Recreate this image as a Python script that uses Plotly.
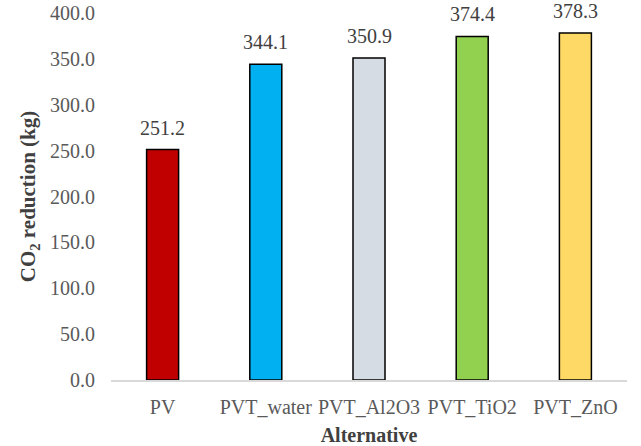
import plotly.graph_objects as go

categories = ["PV", "PVT_water", "PVT_Al2O3", "PVT_TiO2", "PVT_ZnO"]
values = [251.2, 344.1, 350.9, 374.4, 378.3]
colors = ["#C00000", "#00B0F0", "#D6DCE4", "#92D050", "#FFD966"]
y_ticks = [0, 50, 100, 150, 200, 250, 300, 350, 400]

font = "Liberation Serif"

fig = go.Figure()
fig.add_trace(go.Bar(
    x=categories, y=values,
    marker=dict(color=colors, line=dict(color="#000000", width=1.5)),
    width=0.31,
    cliponaxis=False,
))

for c, v in zip(categories, values):
    fig.add_annotation(x=c, y=v, text=f"{v:.1f}", showarrow=False,
                       yanchor="bottom", yshift=10, borderpad=0,
                       font=dict(family=font, size=20, color="#404040"))

fig.update_layout(
    width=641, height=446,
    margin=dict(l=111, r=14, t=13, b=66, autoexpand=False),
    paper_bgcolor="white", plot_bgcolor="white",
    showlegend=False,
    font=dict(family=font, size=20, color="#595959"),
    xaxis=dict(
        automargin=False,
        showline=True, linecolor="#D9D9D9", linewidth=1.5,
        ticks="", ticklabelstandoff=8,
        tickfont=dict(family=font, size=20, color="#595959"),
        title=dict(text="<b>Alternative</b>", font=dict(family=font, size=20, color="#404040"), standoff=12),
    ),
    yaxis=dict(
        automargin=False,
        range=[0, 400], tickvals=y_ticks, tickformat=".1f",
        showgrid=False, zeroline=False, showline=False, ticks="",
        ticklabelstandoff=15,
        tickfont=dict(family=font, size=20, color="#595959"),
        title=dict(text="<b>CO<sub>2</sub> reduction (kg)</b>", font=dict(family=font, size=21, color="#404040"), standoff=8),
    ),
)

fig.write_html("out.html", config={"displayModeBar": False},
               post_script="document.body.style.margin='0';")
